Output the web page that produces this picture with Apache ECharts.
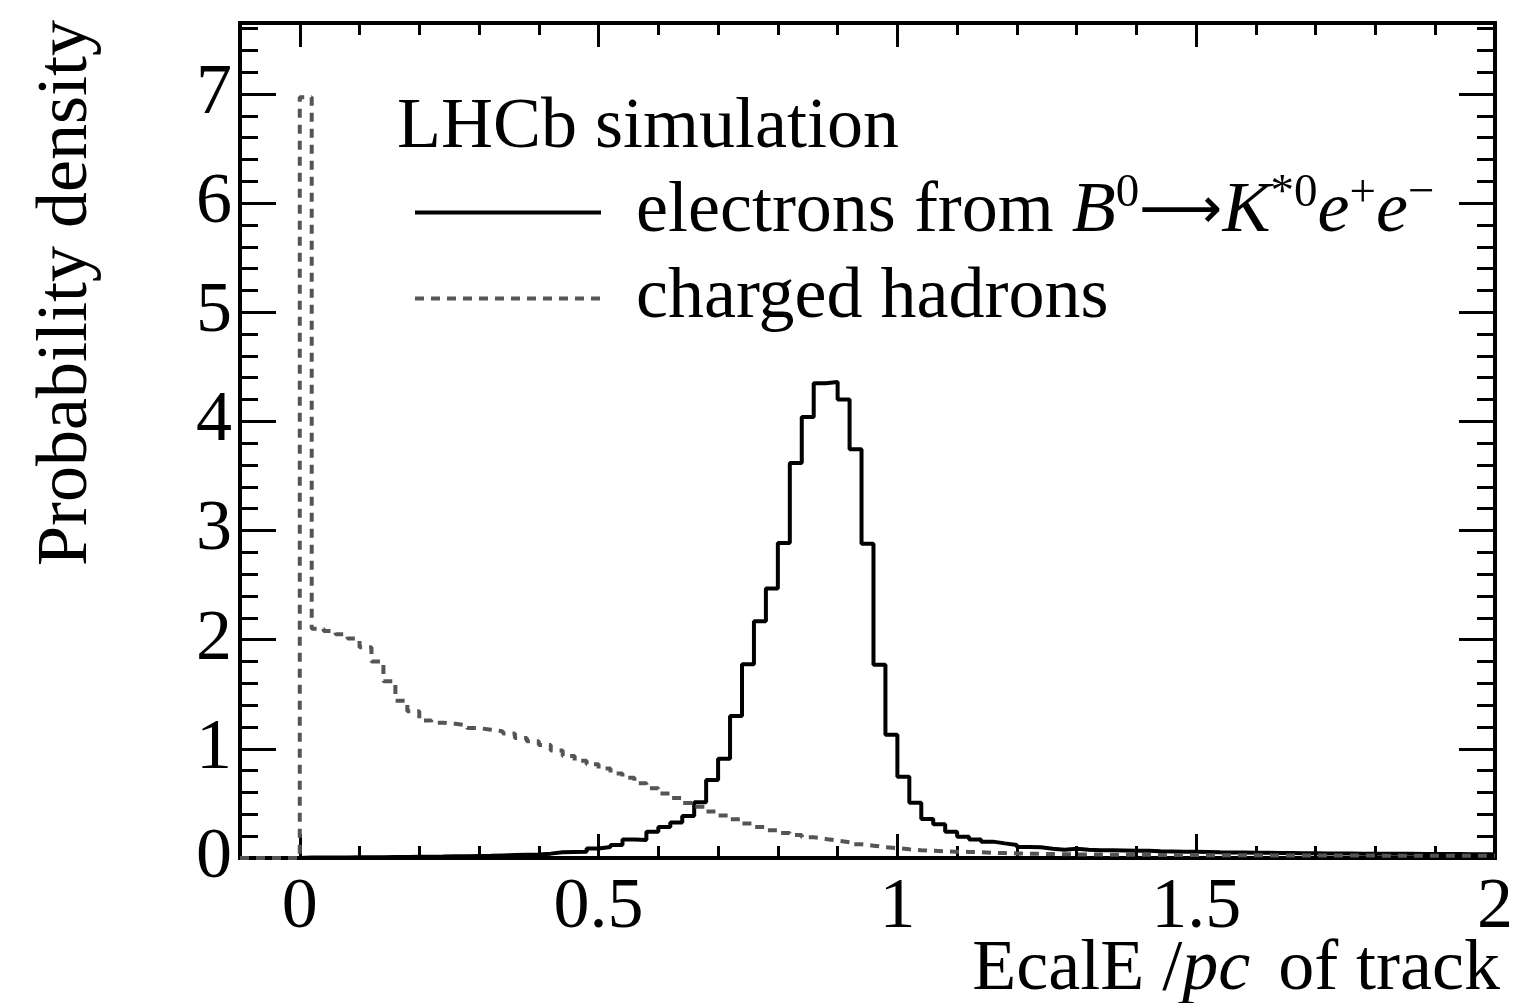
<!DOCTYPE html>
<html><head><meta charset="utf-8">
<script src="https://cdn.jsdelivr.net/npm/echarts@6/dist/echarts.min.js"></script>
<style>html,body{margin:0;padding:0;background:#fff}#c{width:1516px;height:1003px}</style>
</head><body><div id="c"></div>
<script>
// lower edges of the histogram bins (bin width 0.02)
const binLow = [
-0.10,-0.08,-0.06,-0.04,-0.02,
0.00,0.02,0.04,0.06,0.08,0.10,0.12,0.14,0.16,0.18,
0.20,0.22,0.24,0.26,0.28,0.30,0.32,0.34,0.36,0.38,
0.40,0.42,0.44,0.46,0.48,0.50,0.52,0.54,0.56,0.58,
0.60,0.62,0.64,0.66,0.68,0.70,0.72,0.74,0.76,0.78,
0.80,0.82,0.84,0.86,0.88,0.90,0.92,0.94,0.96,0.98,
1.00,1.02,1.04,1.06,1.08,1.10,1.12,1.14,1.16,1.18,
1.20,1.22,1.24,1.26,1.28,1.30,1.32,1.34,1.36,1.38,
1.40,1.42,1.44,1.46,1.48,1.50,1.52,1.54,1.56,1.58,
1.60,1.62,1.64,1.66,1.68,1.70,1.72,1.74,1.76,1.78,
1.80,1.82,1.84,1.86,1.88,1.90,1.92,1.94,1.96,1.98];
const lastEdge = 2.00;

const electrons = [
0,0,0,0,0,
0.004,0.004,0.005,0.005,0.006,0.007,0.008,0.009,0.010,0.011,
0.012,0.013,0.015,0.017,0.019,0.021,0.024,0.027,0.030,0.033,
0.040,0.052,0.055,0.058,0.088,0.100,0.120,0.170,0.165,0.240,
0.285,0.325,0.385,0.510,0.715,0.910,1.300,1.775,2.170,2.470,
2.885,3.620,4.040,4.350,4.360,4.200,3.745,2.880,1.770,1.130,
0.745,0.506,0.357,0.310,0.240,0.195,0.170,0.150,0.134,0.120,
0.100,0.098,0.085,0.075,0.085,0.075,0.072,0.070,0.068,0.066,
0.066,0.062,0.060,0.058,0.058,0.055,0.052,0.050,0.050,0.048,
0.047,0.046,0.045,0.044,0.043,0.042,0.041,0.041,0.040,0.040,
0.039,0.038,0.038,0.037,0.037,0.036,0.036,0.035,0.035,0.034];

const hadrons = [
0,0,0,0,0,
6.97,2.10,2.08,2.05,2.01,1.93,1.80,1.62,1.44,1.345,
1.26,1.24,1.23,1.215,1.19,1.175,1.16,1.14,1.10,1.07,
1.035,0.985,0.935,0.89,0.86,0.82,0.775,0.735,0.685,0.64,
0.59,0.55,0.505,0.47,0.425,0.39,0.355,0.315,0.285,0.255,
0.23,0.21,0.19,0.175,0.16,0.145,0.125,0.113,0.10,0.09,
0.08,0.072,0.066,0.062,0.058,0.056,0.052,0.048,0.045,0.042,
0.040,0.038,0.036,0.034,0.033,0.032,0.031,0.030,0.030,0.029,
0.029,0.028,0.028,0.027,0.027,0.026,0.026,0.025,0.025,0.025,
0.024,0.024,0.024,0.023,0.023,0.023,0.022,0.022,0.022,0.022,
0.021,0.021,0.021,0.021,0.020,0.020,0.020,0.020,0.020,0.020];

const xMajorTicks = [0, 0.5, 1, 1.5, 2];
const xMinorTicks = [-0.1,0.1,0.2,0.3,0.4,0.6,0.7,0.8,0.9,1.1,1.2,1.3,1.4,1.6,1.7,1.8,1.9];
const yMajorTicks = [0,1,2,3,4,5,6,7];
const yMinorTicks = [0.2,0.4,0.6,0.8,1.2,1.4,1.6,1.8,2.2,2.4,2.6,2.8,3.2,3.4,3.6,3.8,
  4.2,4.4,4.6,4.8,5.2,5.4,5.6,5.8,6.2,6.4,6.6,6.8,7.2,7.4,7.6];

const seriesNames = ['electrons', 'hadrons'];
const titleText = 'LHCb simulation';
const yTitle = 'Probability density';

const FONT = "'Liberation Serif','DejaVu Serif',serif";
const FS = 72;

function histData(vals) {
  const d = binLow.map((x, i) => [x, vals[i]]);
  d.push([lastEdge, vals[vals.length - 1]]);
  return d;
}

function xAx(pos, major) {
  return {
    type: 'value', min: -0.1, max: 2, position: pos,
    axisLine: {show: false, onZero: false}, splitLine: {show: false},
    axisTick: {show: true, inside: true, length: major ? 24 : 12,
      customValues: major ? xMajorTicks : xMinorTicks,
      lineStyle: {color: '#000', width: 3}},
    axisLabel: {show: pos === 'bottom' && major, customValues: xMajorTicks,
      fontFamily: FONT, fontSize: FS, color: '#000', margin: 14}
  };
}
function yAx(pos, major) {
  return {
    type: 'value', min: 0, max: 7.65, position: pos,
    axisLine: {show: false, onZero: false}, splitLine: {show: false},
    axisTick: {show: true, inside: true, length: major ? 36 : 18,
      customValues: major ? yMajorTicks : yMinorTicks,
      lineStyle: {color: '#000', width: 3}},
    axisLabel: {show: pos === 'left' && major, customValues: yMajorTicks,
      fontFamily: FONT, fontSize: FS, color: '#000', margin: 8}
  };
}

const chart = echarts.init(document.getElementById('c'), null, {renderer: 'canvas'});
chart.setOption({
  backgroundColor: '#fff',
  animation: false,
  grid: {left: 240, right: 14, top: 23, bottom: 145, show: true,
    borderColor: '#000', borderWidth: 4, backgroundColor: 'transparent'},
  xAxis: [xAx('bottom', true), xAx('bottom', false), xAx('top', true), xAx('top', false)],
  yAxis: [yAx('left', true), yAx('left', false), yAx('right', true), yAx('right', false)],
  legend: {
    orient: 'vertical', left: 408, top: 165, itemWidth: 186, itemHeight: 20, itemGap: 14,
    selectedMode: false,
    data: seriesNames,
    itemStyle: {opacity: 0},
    lineStyle: {width: 4},
    formatter: n => n === 'electrons'
      ? '{r|electrons from }{i|B}{s|0}{a|⟶}{i|K}{s|*0}{i|e}{s|+}{i|e}{s|−}'
      : '{r|charged hadrons}',
    textStyle: {
      fontFamily: FONT, fontSize: FS, color: '#000', padding: [0, 0, 0, 30],
      rich: {
        r: {fontFamily: FONT, fontSize: FS, color: '#000', lineHeight: 85},
        i: {fontFamily: FONT, fontSize: FS, fontStyle: 'italic', color: '#000', lineHeight: 85},
        a: {fontFamily: "'DejaVu Sans',sans-serif", fontSize: 58, color: '#000', lineHeight: 85},
        s: {fontFamily: FONT, fontSize: 47, color: '#000', lineHeight: 40, verticalAlign: 'top'}
      }
    }
  },
  graphic: [
    {type: 'text', x: 397, y: 128,
      style: {text: titleText, font: FS + 'px ' + FONT, fill: '#000', align: 'left', verticalAlign: 'middle'}},
    {type: 'text', x: 67, y: 20, rotation: Math.PI / 2,
      style: {text: yTitle, font: FS + 'px ' + FONT, fill: '#000', align: 'right', verticalAlign: 'middle'}},
    {type: 'text', x: 1500, y: 970,
      style: {
        text: '{r|EcalE /}{i|pc}{r| of track}', fill: '#000', align: 'right', verticalAlign: 'middle',
        rich: {
          r: {fontFamily: FONT, fontSize: FS, fill: '#000'},
          i: {fontFamily: FONT, fontSize: FS, fontStyle: 'italic', fill: '#000', padding: [0, 10, 0, 0]}
        }
      }}
  ],
  series: [
    {name: 'electrons', type: 'line', step: 'end', symbol: 'none', clip: false,
      xAxisIndex: 0, yAxisIndex: 0,
      lineStyle: {color: '#000', width: 4}, itemStyle: {color: '#000'},
      data: histData(electrons), z: 3},
    {name: 'hadrons', type: 'line', step: 'end', symbol: 'none', clip: false,
      xAxisIndex: 0, yAxisIndex: 0,
      lineStyle: {color: '#555', width: 4, type: [9, 7]}, itemStyle: {color: '#555'},
      data: histData(hadrons), z: 4}
  ]
});
</script></body></html>
